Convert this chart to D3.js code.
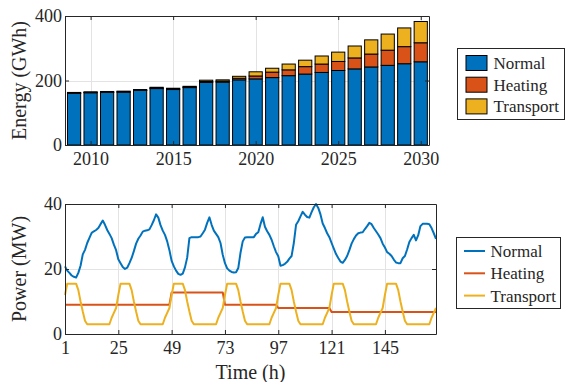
<!DOCTYPE html>
<html>
<head>
<meta charset="utf-8">
<script src="https://cdn.jsdelivr.net/npm/d3@7"></script>
<style>
  body { margin: 0; background: #fff; }
</style>
</head>
<body>
<svg id="chart"></svg>
<script>
const width = 566;
const height = 382;

// yearly energy (GWh), stacked bars
const years = [2009, 2010, 2011, 2012, 2013, 2014, 2015, 2016, 2017, 2018, 2019,
    2020, 2021, 2022, 2023, 2024, 2025, 2026, 2027, 2028, 2029, 2030];
const normalEnergy = [160, 162, 163, 164, 169, 175, 172, 178, 194, 195, 202,
    205, 209, 215, 220, 225, 231, 236, 242, 247, 252, 258];
const heatingEnergy = [1, 1, 1, 1, 1, 2, 2, 2, 3, 3, 5,
    9, 17, 18, 23, 26, 28, 34, 40, 47, 53, 59];
const transportEnergy = [2, 2, 2, 2, 2, 2, 2, 2, 4, 4, 6,
    13, 12, 18, 20, 25, 29, 37, 44, 50, 58, 66];
const yearTicks = [2010, 2015, 2020, 2025, 2030];
const energyTicks = [0, 200, 400];

// hourly power (MW) over one week
const hours = d3.range(1, 169);
const normalPower = [
    20.8, 19.5, 18.8, 18.0, 17.6, 17.4, 18.8, 21.0, 24.5, 25.9, 28.0, 29.6, 31.1, 31.6, 32.0, 32.6, 33.8, 34.9, 33.6, 32.0, 30.8, 29.5, 27.5, 25.8,
    23.0, 21.8, 20.6, 20.0, 20.4, 21.8, 23.4, 25.5, 27.8, 29.3, 30.3, 31.5, 31.8, 31.9, 32.2, 33.5, 35.0, 36.8, 35.8, 33.5, 31.8, 30.5, 28.5, 25.8,
    22.5, 20.8, 19.5, 18.5, 18.2, 18.6, 20.5, 23.5, 29.5, 29.8, 29.8, 29.8, 29.8, 30.0, 31.0, 32.1, 34.2, 35.9, 33.6, 31.8, 30.8, 29.8, 28.0, 24.4,
    21.8, 20.2, 19.5, 19.1, 18.9, 19.0, 20.3, 25.0, 28.5, 29.7, 29.8, 29.8, 29.8, 29.8, 30.8, 31.3, 33.8, 35.9, 33.0, 31.6, 30.5, 29.0, 27.0, 25.2,
    23.9, 21.0, 21.2, 21.6, 22.2, 23.2, 24.0, 28.0, 33.6, 34.7, 36.2, 37.6, 36.7, 36.0, 35.8, 37.5, 39.0, 40.0, 38.8, 36.8, 34.0, 32.6, 31.0, 29.8,
    28.0, 26.3, 24.6, 23.4, 22.3, 21.9, 22.8, 24.0, 25.8, 27.8, 29.2, 30.3, 31.0, 31.2, 31.3, 32.3, 33.2, 34.2, 33.8, 32.6, 31.6, 30.6, 29.5, 27.8,
    26.6, 25.2, 24.7, 24.0, 22.9, 22.0, 21.8, 21.8, 23.3, 24.0, 26.0, 28.3, 29.5, 30.5, 28.8, 30.4, 33.2, 33.9, 33.9, 33.9, 33.8, 32.6, 31.0, 29.3
];
const heatingPower = [
    9, 9, 9, 9, 9, 9, 9, 9, 9, 9, 9, 9, 9, 9, 9, 9, 9, 9, 9, 9, 9, 9, 9, 9,
    9, 9, 9, 9, 9, 9, 9, 9, 9, 9, 9, 9, 9, 9, 9, 9, 9, 9, 9, 9, 9, 9, 9, 9,
    12.8, 12.8, 12.8, 12.8, 12.8, 12.8, 12.8, 12.8, 12.8, 12.8, 12.8, 12.8, 12.8, 12.8, 12.8, 12.8, 12.8, 12.8, 12.8, 12.8, 12.8, 12.8, 12.8, 12.8,
    9, 9, 9, 9, 9, 9, 9, 9, 9, 9, 9, 9, 9, 9, 9, 9, 9, 9, 9, 9, 9, 9, 9, 9,
    8, 8, 8, 8, 8, 8, 8, 8, 8, 8, 8, 8, 8, 8, 8, 8, 8, 8, 8, 8, 8, 8, 8, 8,
    6.8, 6.8, 6.8, 6.8, 6.8, 6.8, 6.8, 6.8, 6.8, 6.8, 6.8, 6.8, 6.8, 6.8, 6.8, 6.8, 6.8, 6.8, 6.8, 6.8, 6.8, 6.8, 6.8, 6.8,
    6.8, 6.8, 6.8, 6.8, 6.8, 6.8, 6.8, 6.8, 6.8, 6.8, 6.8, 6.8, 6.8, 6.8, 6.8, 6.8, 6.8, 6.8, 6.8, 6.8, 6.8, 6.8, 6.8, 6.8
];
const transportPower = [
    12, 15.5, 15.5, 15.5, 15.5, 15.5, 13.5, 10, 6.9, 4.1, 3, 3, 3, 3, 3, 3, 3, 3, 3, 3, 3, 5, 6.5, 8,
    12, 15.5, 15.5, 15.5, 15.5, 15.5, 13.5, 10, 6.9, 4.1, 3, 3, 3, 3, 3, 3, 3, 3, 3, 3, 3, 5, 6.5, 8,
    12, 15.5, 15.5, 15.5, 15.5, 15.5, 13.5, 10, 6.9, 4.1, 3, 3, 3, 3, 3, 3, 3, 3, 3, 3, 3, 5, 6.5, 8,
    12, 15.5, 15.5, 15.5, 15.5, 15.5, 13.5, 10, 6.9, 4.1, 3, 3, 3, 3, 3, 3, 3, 3, 3, 3, 3, 5, 6.5, 8,
    12, 15.5, 15.5, 15.5, 15.5, 15.5, 13.5, 10, 6.9, 4.1, 3, 3, 3, 3, 3, 3, 3, 3, 3, 3, 3, 5, 6.5, 8,
    12, 15.5, 15.5, 15.5, 15.5, 15.5, 13.5, 10, 6.9, 4.1, 3, 3, 3, 3, 3, 3, 3, 3, 3, 3, 3, 5, 6.5, 8,
    12, 15.5, 15.5, 15.5, 15.5, 15.5, 13.5, 10, 6.9, 4.1, 3, 3, 3, 3, 3, 3, 3, 3, 3, 3, 3, 5, 6.5, 8
];
const hourTicks = [1, 25, 49, 73, 97, 121, 145];
const powerTicks = [0, 20, 40];

const seriesNames = ["Normal", "Heating", "Transport"];
const colors = ["#0072BD", "#D95319", "#EDB120"];
const axisColor = "#262626";
const gridColor = "#e3e3e3";
const fontFamily = "'Liberation Serif', 'Times New Roman', Times, 'DejaVu Serif', serif";
const tickLen = 4;

const svg = d3.select("#chart")
    .attr("width", width)
    .attr("height", height);

svg.append("rect").attr("width", width).attr("height", height).attr("fill", "#fff");

// ---------- top panel: stacked bars ----------
const topBox = { left: 65, right: 429, top: 16, bottom: 145 };

const xYear = d3.scaleLinear()
    .domain([2008.45, 2030.5])
    .range([topBox.left, topBox.right]);

const yEnergy = d3.scaleLinear()
    .domain([0, 400])
    .range([topBox.bottom, topBox.top]);

const energyTable = years.map((y, i) => ({
    year: y,
    Normal: normalEnergy[i],
    Heating: heatingEnergy[i],
    Transport: transportEnergy[i]
}));
const stacked = d3.stack().keys(seriesNames)(energyTable);

drawGrid(svg, xYear, yEnergy, yearTicks, energyTicks, topBox);

const barW = (xYear(2009.4) - xYear(2008.6));
svg.append("g")
    .selectAll("g")
    .data(stacked)
    .join("g")
    .attr("fill", (d, i) => colors[i])
    .selectAll("rect")
    .data(d => d)
    .join("rect")
    .attr("x", d => xYear(d.data.year) - barW / 2)
    .attr("y", d => yEnergy(d[1]))
    .attr("width", barW)
    .attr("height", d => yEnergy(d[0]) - yEnergy(d[1]))
    .attr("stroke", "#000")
    .attr("stroke-width", 1);

drawAxes(svg, xYear, yEnergy, yearTicks, energyTicks, topBox, d3.format("d"));

addText(svg, 0, 0, "Energy (GWh)", 20)
    .attr("transform", `translate(26,${(topBox.top + topBox.bottom) / 2}) rotate(-90)`)
    .attr("text-anchor", "middle");

// ---------- bottom panel: hourly lines ----------
const botBox = { left: 65, right: 436, top: 204, bottom: 334 };

const xHour = d3.scaleLinear()
    .domain([1, 168])
    .range([botBox.left, botBox.right]);

const yPower = d3.scaleLinear()
    .domain([0, 40])
    .range([botBox.bottom, botBox.top]);

drawGrid(svg, xHour, yPower, hourTicks, powerTicks, botBox);

const line = d3.line()
    .x((d, i) => xHour(hours[i]))
    .y(d => yPower(d));

[normalPower, heatingPower, transportPower].forEach((series, i) => {
    svg.append("path")
        .datum(series)
        .attr("fill", "none")
        .attr("stroke", colors[i])
        .attr("stroke-width", 2)
        .attr("stroke-linejoin", "round")
        .attr("d", line);
});

drawAxes(svg, xHour, yPower, hourTicks, powerTicks, botBox, d3.format("d"));

addText(svg, 0, 0, "Power (MW)", 20)
    .attr("transform", `translate(26,${(botBox.top + botBox.bottom) / 2}) rotate(-90)`)
    .attr("text-anchor", "middle");

addText(svg, (botBox.left + botBox.right) / 2, 379, "Time (h)", 20)
    .attr("text-anchor", "middle");

// ---------- legends ----------
const legTop = svg.append("g").attr("transform", "translate(457.5,48.5)");
legTop.append("rect")
    .attr("width", 107).attr("height", 71)
    .attr("fill", "#fff").attr("stroke", axisColor).attr("stroke-width", 1);
seriesNames.forEach((name, i) => {
    const yy = 14.5 + i * 21.7;
    legTop.append("rect")
        .attr("x", 8.5).attr("y", yy - 7.5)
        .attr("width", 21).attr("height", 15)
        .attr("fill", colors[i]).attr("stroke", "#000");
    addText(legTop, 36, yy, name, 17).attr("dy", "0.35em");
});

const legBot = svg.append("g").attr("transform", "translate(456.5,237.5)");
legBot.append("rect")
    .attr("width", 104).attr("height", 71)
    .attr("fill", "#fff").attr("stroke", axisColor).attr("stroke-width", 1);
seriesNames.forEach((name, i) => {
    const yy = 13.5 + i * 22.3;
    legBot.append("line")
        .attr("x1", 7.5).attr("x2", 28.5)
        .attr("y1", yy).attr("y2", yy)
        .attr("stroke", colors[i]).attr("stroke-width", 2);
    addText(legBot, 34, yy, name, 17).attr("dy", "0.35em");
});


function addText(g, x, y, str, size) {
    return g.append("text")
        .attr("x", x)
        .attr("y", y)
        .style("font-family", fontFamily)
        .style("font-size", size + "px")
        .style("fill", axisColor)
        .text(str);
}


function drawGrid(g, x, y, xt, yt, box) {
    const grid = g.append("g")
        .attr("stroke", gridColor)
        .attr("stroke-width", 1);
    xt.forEach(t => {
        grid.append("line")
            .attr("x1", Math.round(x(t)) + 0.5).attr("x2", Math.round(x(t)) + 0.5)
            .attr("y1", box.top).attr("y2", box.bottom);
    });
    yt.forEach(t => {
        grid.append("line")
            .attr("x1", box.left).attr("x2", box.right)
            .attr("y1", Math.round(y(t)) + 0.5).attr("y2", Math.round(y(t)) + 0.5);
    });
}


function drawAxes(g, x, y, xt, yt, box, fmt) {
    const ax = g.append("g")
        .attr("transform", `translate(0,${box.bottom})`)
        .call(d3.axisBottom(x).tickValues(xt).tickFormat(fmt)
            .tickSizeInner(-tickLen).tickSizeOuter(0).tickPadding(5));
    ax.attr("font-family", null);
    ax.selectAll("text")
        .style("font-family", fontFamily)
        .style("font-size", "18px")
        .style("fill", axisColor)
        .attr("dy", "0.85em");

    g.append("g")
        .attr("transform", `translate(0,${box.top})`)
        .call(d3.axisTop(x).tickValues(xt).tickFormat("")
            .tickSizeInner(-tickLen).tickSizeOuter(0));

    const ay = g.append("g")
        .attr("transform", `translate(${box.left},0)`)
        .call(d3.axisLeft(y).tickValues(yt).tickFormat(fmt)
            .tickSizeInner(-tickLen).tickSizeOuter(0).tickPadding(3));
    ay.attr("font-family", null);
    ay.selectAll("text")
        .style("font-family", fontFamily)
        .style("font-size", "18px")
        .style("fill", axisColor);

    g.append("g")
        .attr("transform", `translate(${box.right},0)`)
        .call(d3.axisRight(y).tickValues(yt).tickFormat("")
            .tickSizeInner(-tickLen).tickSizeOuter(0));

    g.selectAll(".domain, .tick line").attr("stroke", axisColor);
}
</script>
</body>
</html>
